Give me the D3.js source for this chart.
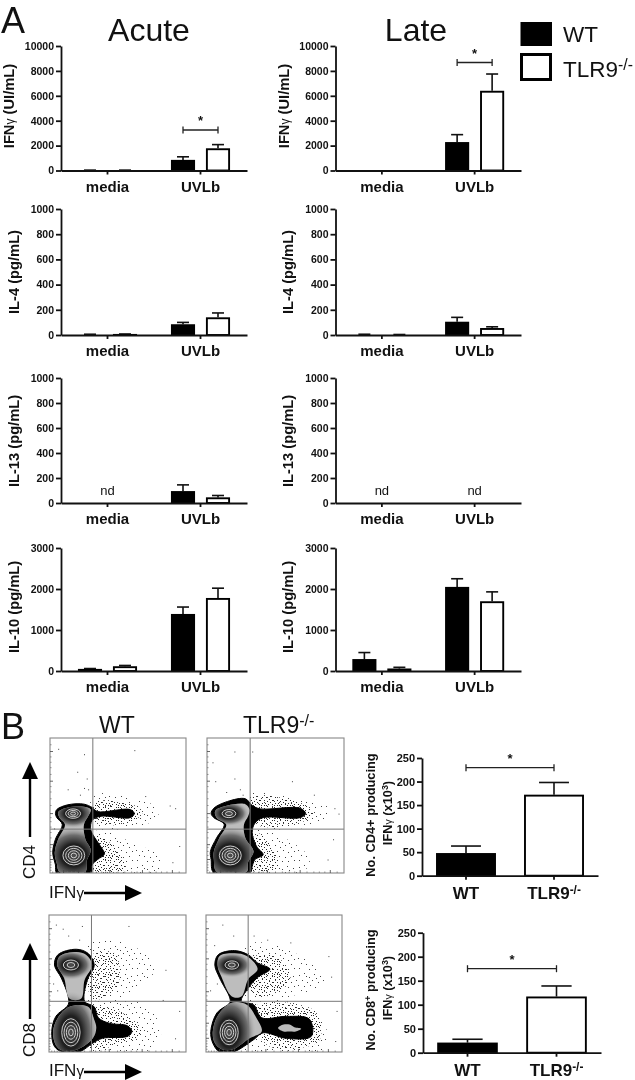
<!DOCTYPE html>
<html><head><meta charset="utf-8">
<script src="https://cdn.jsdelivr.net/npm/d3@7/dist/d3.min.js"></script>
<style>
html,body{margin:0;padding:0;background:#fff}
svg{display:block;filter:blur(.35px)}
text{font-family:"Liberation Sans",Arial,sans-serif;fill:#111}
.tick text{font-weight:700}
</style></head><body><svg id="c" width="635" height="1080"></svg>
<script>
// ---------- bar chart data ----------
const groups = ["media","UVLb"];
const series = ["WT","TLR9"];
const ifnTicks = [0,2000,4000,6000,8000,10000];
const ilTicks = [0,200,400,600,800,1000];
const il10Ticks = [0,1000,2000,3000];
const countTicks = [0,50,100,150,200,250];

const ifnAcuteWT=[30,850],   ifnAcuteWTtop=[30,1100];
const ifnAcuteKO=[30,1780],  ifnAcuteKOtop=[30,2080];
const ifnLateWT=[0,2280],    ifnLateWTtop=[0,2880];
const ifnLateKO=[0,6400],    ifnLateKOtop=[0,7750];
const il4AcuteWT=[6,85],     il4AcuteWTtop=[6,100];
const il4AcuteKO=[8,140],    il4AcuteKOtop=[8,175];
const il4LateWT=[6,105],     il4LateWTtop=[6,140];
const il4LateKO=[4,55],      il4LateKOtop=[4,65];
const il13AcuteWT=[null,95], il13AcuteWTtop=[null,145];
const il13AcuteKO=[null,45], il13AcuteKOtop=[null,60];
const il13LateWT=[null,null],il13LateWTtop=[null,null];
const il13LateKO=[null,null],il13LateKOtop=[null,null];
const il10AcuteWT=[50,1390], il10AcuteWTtop=[60,1560];
const il10AcuteKO=[115,1780],il10AcuteKOtop=[135,2020];
const il10LateWT=[290,2050], il10LateWTtop=[450,2250];
const il10LateKO=[60,1700],  il10LateKOtop=[90,1930];
const cd4Count=[48,172], cd4CountTop=[63,198];
const cd8Count=[21,117], cd8CountTop=[28,139];

// ---------- flow plot shapes, in percent of each plot's axes ----------
const cd4WtOutline=[[5,47],[13,50.5],[25,51],[31,48.5],[35,45.5],[59,47],[62,44],[59,41],[37,42],[31,39],[30,32],[33,26],[37,20],[40,14],[35,10],[31,6],[30,0],[5,0],[4,6],[2,15],[4,25],[9,36],[5,41],[4,44]];
const cd4WtInner=[[[6,45],[13,48.5],[25,49],[30,47],[28,42],[25,36],[26,25],[30,17],[27,9],[26,1],[7,1],[5,7],[3.5,15],[6,25],[11,36],[7,41]]];
const cd4WtCenters=[[17,44,5.5,3.5,3],[17.5,13,8,7,4]];
const cd4KoOutline=[[5,48],[15,53],[28,55],[33,50],[39,47.5],[68,48],[72,44],[68,41],[41,41],[35,37],[33,30],[36,20],[41,13.5],[35,10],[33,5],[31.5,0],[5,0],[3,10],[2.5,16],[7,26],[12.5,36],[5,41],[3,44]];
const cd4KoInner=[[[6,46],[15,50],[28,51],[31,47],[30,42],[27,36],[28,26],[34,16],[30,8],[29,1],[7,1],[5,10],[5,16],[9,26],[14,36],[7,41]]];
const cd4KoCenters=[[16,44,5,3,2],[17,13,8,7,4]];
const cd8WtOutline=[[4,63.5],[6.5,71],[20,75],[28.5,72],[33,63.5],[28,52.5],[26,37],[33,33],[36,25],[44,21],[57.5,19],[60.5,15],[57.5,11.5],[39,10],[32,6.5],[22,0],[10,0],[4,4],[2,15],[5,26],[14,34.5],[14,40.5],[9,54]];
const cd8WtInner=[[[6,63.5],[8,70],[20,73],[27,71],[31.5,63.5],[26,52.5],[23.5,39],[15,39],[11,54]],[[15,33],[28.5,33],[33,23.5],[34.5,17.5],[32,10],[21,2],[10,1],[5,5],[3,15],[6.5,25]]];
const cd8WtCenters=[[16,63.5,5.5,3.6,2],[16,14.3,6.7,10,4]];
const cd8KoOutline=[[6.5,63.5],[9,71],[21,74],[31,71],[38,65],[47,60.5],[38,54.5],[31,46.5],[26,37],[35,34.5],[41,25],[59,26],[76,24],[77.5,11.5],[59,10],[42,14],[35,9],[20,0],[10,0],[5,6.5],[3.5,15],[8,28.5],[17.5,36],[17.5,39.5],[10,54]];
const cd8KoInner=[[[8.5,63.5],[10,70],[21,72],[30,70],[38,60.5],[31,53],[26,40.5],[19,40.5],[11.5,54.5]],[[19,36],[30,34.5],[37,25],[41,15],[32,10],[20,2],[11.5,2],[6.5,6.5],[5,15],[9,27]]];
const cd8KoCenters=[[19,63.5,5,3,2],[17,14.3,6.7,9,4]];
const cd8KoPatch=[[[53,17.5],[57,20],[61.5,20],[65,18],[70,17],[66,15],[61.5,15],[57,15]]];

const hazeCd4Wt=[[[32,58],[61,55],[81,47],[71,36],[37,34],[30,44]],[[35,32],[61,22],[81,12],[79,1],[33,1]]];
const denseCd4Wt=[[[33,52],[60,51],[68,45],[60,38],[34,37]],[[34,28],[50,16],[55,3],[32,2]]];
const hazeCd4Ko=[[[30,58],[70,54],[90,47],[80,36],[40,34],[30,44]],[[35,32],[60,24],[75,10],[70,1],[33,1]]];
const denseCd4Ko=[[[32,56],[68,52],[78,45],[70,38],[36,36]],[[36,30],[48,18],[52,4],[33,2]]];
const hazeCd8Wt=[[[28,78],[55,80],[78,62],[60,44],[30,36],[26,55]],[[33,36],[70,34],[82,14],[72,1],[26,1]]];
const denseCd8Wt=[[[30,70],[48,72],[50,48],[32,38],[28,55]],[[34,32],[58,26],[68,14],[52,6],[30,3]]];
const hazeCd8Ko=[[[28,78],[58,76],[88,52],[60,40],[30,36],[22,60]],[[30,36],[75,32],[90,12],[85,1],[28,1]]];
const denseCd8Ko=[[[36,70],[54,68],[62,52],[40,40],[30,48]],[[36,33],[80,30],[83,8],[45,5]]];

const strayCd4Wt=[[6,92],[20,75],[25,88],[62,91],[27,70],[25,63],[13,62],[88,50],[92,48],[70,57],[95,20],[90,8],[3,33],[6,30],[22,58],[28,62]];
const strayCd4Ko=[[4,82],[20,90],[6,68],[33,90],[62,68],[14,60],[24,62],[93,48],[96,44],[78,58],[92,25],[88,10],[20,70],[26,58]];
const strayCd8Wt=[[5,93],[14,85],[58,92],[22,82],[24,92],[10,90],[85,60],[3,50],[6,45],[92,10],[95,30],[83,38]];
const strayCd8Ko=[[12,93],[6,78],[20,85],[35,85],[62,80],[90,70],[8,50],[3,45],[95,8],[96,30],[92,55],[45,82]];

const flowMajor=[10,21,44,68,90];
const flowMinor=[2,4,6,8,13,16,19,26,30,34,38,41,50,55,60,64,73,78,82,86,95];
const quadCd4=[31.5,32.5], quadCd8=[31,37];

// ---------- drawing ----------
const svg=d3.select("#c");
const defs=svg.append("defs");
const lightDots=[[2,3],[7,1],[12,5],[17,2],[23,4],[5,8],[10,10],[15,8],[21,10],[1,13],[7,14],[13,13],[18,15],[24,14],[4,18],[9,19],[15,20],[21,19],[2,23],[12,24],[18,24],[24,23],[26,8],[19,6],[9,4]];
const denseDots=[[1,1],[4,2],[7,0],[10,3],[2,4],[6,4],[9,6],[0,7],[4,7],[7,8],[10,9],[2,10],[5,10],[8,11],[1,12],[4,12],[12,1],[12,7],[12,11],[6,12]];
function pattern(id,size,dots,col){
  const p=defs.append("pattern").attr("id",id).attr("width",size).attr("height",size).attr("patternUnits","userSpaceOnUse");
  p.selectAll("rect").data(dots).join("rect").attr("x",d=>d[0]).attr("y",d=>d[1]).attr("width",1).attr("height",1).attr("fill",col);
}
pattern("hazeLight",27,lightDots,"#444");
pattern("hazeDense",13,denseDots,"#2a2a2a");
const grad=defs.append("radialGradient").attr("id","core");
grad.append("stop").attr("offset","0").attr("stop-color","#505050").attr("stop-opacity",1);
grad.append("stop").attr("offset","0.4").attr("stop-color","#1e1e1e").attr("stop-opacity",1);
grad.append("stop").attr("offset","0.72").attr("stop-color","#666").attr("stop-opacity",.9);
grad.append("stop").attr("offset","1").attr("stop-color","#aaa").attr("stop-opacity",0);

function rich(g,parts){ // parts: [text, kind]
  parts.forEach(([t,k])=>{
    const s=g.append("tspan").text(t);
    if(k==="sup") s.attr("font-size","0.7em").attr("dy","-0.42em");
    if(k==="after") s.attr("dy","0.29em");
    if(k==="gamma") s.attr("font-size","0.82em").attr("font-weight","400");
  });
  return g;
}

function barPanel(o){
  const x0=d3.scaleBand().domain(o.cats).range([o.x,o.xEnd]).paddingInner(o.pi||0).paddingOuter(o.po||0);
  const y=d3.scaleLinear().domain([0,o.max]).range([o.bottom,o.top]);
  const g=svg.append("g");
  let x1;
  if(o.single){x1=null}else{
    x1=d3.scaleBand().domain(series).range([x0.bandwidth()/2-29.5,x0.bandwidth()/2+29.5]).paddingInner(.314);
  }
  const rows=[];
  o.cats.forEach((c,i)=>{
    if(o.single){
      rows.push({x:x0(c),w:x0.bandwidth(),v:o.wt[i],t:o.wtTop[i],s:i===0?"WT":"TLR9"});
    }else{
      rows.push({x:x0(c)+x1("WT"),w:x1.bandwidth(),v:o.wt[i],t:o.wtTop[i],s:"WT"});
      rows.push({x:x0(c)+x1("TLR9"),w:x1.bandwidth(),v:o.ko[i],t:o.koTop[i],s:"TLR9"});
    }
  });
  const valid=rows.filter(d=>d.v!==null&&d.v>0);
  const cap=d=>d.w/4;
  g.selectAll(".eb").data(valid).join("line").attr("x1",d=>d.x+d.w/2).attr("x2",d=>d.x+d.w/2)
    .attr("y1",d=>y(d.v)).attr("y2",d=>y(d.t)).attr("stroke","#111").attr("stroke-width",1.6);
  g.selectAll(".cap").data(valid).join("line").attr("x1",d=>d.x+d.w/2-cap(d)).attr("x2",d=>d.x+d.w/2+cap(d))
    .attr("y1",d=>y(d.t)).attr("y2",d=>y(d.t)).attr("stroke","#111").attr("stroke-width",1.6);
  g.selectAll(".bar").data(valid).join("rect").attr("x",d=>d.x+.9).attr("width",d=>d.w-1.8)
    .attr("y",d=>Math.min(y(d.v)+.9,y(0))).attr("height",d=>Math.max(y(0)-y(d.v)-.9,0))
    .attr("fill",d=>d.s==="WT"?"#000":"#fff").attr("stroke","#000").attr("stroke-width",1.9);
  const ay=g.append("g").attr("transform",`translate(${o.x},0)`)
    .call(d3.axisLeft(y).tickValues(o.ticks).tickSize(5).tickSizeOuter(0).tickFormat(d3.format("d")));
  ay.selectAll(".domain,line").attr("stroke","#111").attr("stroke-width",1.8);
  ay.selectAll("text").attr("font-size",o.tickFont||10.5).attr("dx",1).style("font-family","Liberation Sans");
  const ax=g.append("g").attr("transform",`translate(0,${o.bottom})`)
    .call(d3.axisBottom(x0).tickSize(4).tickSizeOuter(0));
  ax.selectAll(".domain,line").attr("stroke","#111").attr("stroke-width",1.8);
  const labs=ax.selectAll("text").attr("font-size",o.catFont||15).attr("dy",o.catDy||"0.95em").style("font-family","Liberation Sans");
  if(o.single){
    labs.filter(d=>d==="TLR9").text(null).each(function(){rich(d3.select(this),[["TLR9"],["-/-","sup"]])});
  }
  (o.nd||[]).forEach(c=>{
    g.append("text").attr("x",x0(c)+x0.bandwidth()/2).attr("y",y(0)-8).attr("text-anchor","middle").attr("font-size",13).text("nd");
  });
  if(o.sig){
    const yy=o.sig.y;
    const ax1=o.sig.xa(x0,x1),bx1=o.sig.xb(x0,x1);
    const sg=g.append("g").attr("stroke","#222").attr("stroke-width",1.3);
    sg.append("line").attr("x1",ax1).attr("x2",bx1).attr("y1",yy).attr("y2",yy);
    sg.append("line").attr("x1",ax1).attr("x2",ax1).attr("y1",yy-3.5).attr("y2",yy+3.5);
    sg.append("line").attr("x1",bx1).attr("x2",bx1).attr("y1",yy-3.5).attr("y2",yy+3.5);
    g.append("text").attr("x",(ax1+bx1)/2).attr("y",yy-5).attr("text-anchor","middle").attr("font-size",13).attr("font-weight",700).text("*");
  }
  return {x0,x1,y};
}
function yLabel(x,y,parts,size){
  const t=svg.append("text").attr("transform",`translate(${x},${y}) rotate(-90)`).attr("text-anchor","middle")
    .attr("font-size",size||14.7).attr("font-weight",700);
  rich(t,parts);
}
const uvSig={xa:(x0,x1)=>x0("UVLb")+x1("WT")+x1.bandwidth()/2,xb:(x0,x1)=>x0("UVLb")+x1("TLR9")+x1.bandwidth()/2};
const left={x:61,xEnd:247}, right={x:335.5,xEnd:521};
const rowY=[[46,170.5],[209,335],[378,503],[548,671]];
const rowCfg=[
 {max:10000,ticks:ifnTicks},{max:1000,ticks:ilTicks},{max:1000,ticks:ilTicks},{max:3000,ticks:il10Ticks}];
function p(col,row,wt,wtTop,ko,koTop,extra){
  barPanel(Object.assign({cats:groups,x:col.x,xEnd:col.xEnd,top:rowY[row][0],bottom:rowY[row][1],max:rowCfg[row].max,ticks:rowCfg[row].ticks,wt,wtTop,ko,koTop},extra||{}));
}
p(left,0,ifnAcuteWT,ifnAcuteWTtop,ifnAcuteKO,ifnAcuteKOtop,{sig:Object.assign({y:130},uvSig)});
p(right,0,ifnLateWT,ifnLateWTtop,ifnLateKO,ifnLateKOtop,{sig:Object.assign({y:62.5},uvSig)});
p(left,1,il4AcuteWT,il4AcuteWTtop,il4AcuteKO,il4AcuteKOtop);
p(right,1,il4LateWT,il4LateWTtop,il4LateKO,il4LateKOtop);
p(left,2,il13AcuteWT,il13AcuteWTtop,il13AcuteKO,il13AcuteKOtop,{nd:["media"]});
p(right,2,il13LateWT,il13LateWTtop,il13LateKO,il13LateKOtop,{nd:["media","UVLb"]});
p(left,3,il10AcuteWT,il10AcuteWTtop,il10AcuteKO,il10AcuteKOtop);
p(right,3,il10LateWT,il10LateWTtop,il10LateKO,il10LateKOtop);

const ifnLab=u=>[["IFN"],["γ","gamma"],[" ("+u+")"]];
yLabel(14,106,ifnLab("UI/mL")); yLabel(289,106,ifnLab("UI/mL"));
yLabel(19,272,[["IL-4 (pg/mL)"]]); yLabel(293,272,[["IL-4 (pg/mL)"]]);
yLabel(19,441,[["IL-13 (pg/mL)"]]); yLabel(293,441,[["IL-13 (pg/mL)"]]);
yLabel(19,607,[["IL-10 (pg/mL)"]]); yLabel(293,607,[["IL-10 (pg/mL)"]]);

const countCats=["WT","TLR9"];
const countSig={xa:x0=>x0("WT")+x0.bandwidth()/2,xb:x0=>x0("TLR9")+x0.bandwidth()/2};
barPanel({cats:countCats,single:true,x:422,xEnd:598,pi:.32,po:.16,top:758,bottom:875.7,max:250,ticks:countTicks,wt:cd4Count,wtTop:cd4CountTop,tickFont:11,catFont:17,catDy:"0.98em",sig:Object.assign({y:767.7},countSig)});
barPanel({cats:countCats,single:true,x:423,xEnd:601,pi:.32,po:.16,top:932.7,bottom:1052.7,max:250,ticks:countTicks,wt:cd8Count,wtTop:cd8CountTop,tickFont:11,catFont:17,catDy:"0.98em",sig:Object.assign({y:968.7},countSig)});
const sup3=[["IFN"],["γ","gamma"],[" (x10"],["3","sup"],[")","after"]];
yLabel(375,815,[["No. CD4+ producing"]],12.8); yLabel(392,813,sup3,12.8);
yLabel(375,990,[["No. CD8"],["+","sup"],[" producing","after"]],12.8); yLabel(392,988,sup3,12.8);

// flow plots
let clipN=0;
function flow(o){
  const x=d3.scaleLinear().domain([0,100]).range([o.x,o.x+o.w]);
  const y=d3.scaleLinear().domain([0,100]).range([o.y+o.h,o.y]);
  const g=svg.append("g");
  const smooth=d3.line().x(d=>x(d[0])).y(d=>y(d[1])).curve(d3.curveCatmullRomClosed.alpha(.5));
  const id="f"+(clipN++);
  defs.append("clipPath").attr("id",id).append("rect").attr("x",o.x).attr("y",o.y).attr("width",o.w).attr("height",o.h);
  const plot=g.append("g").attr("clip-path",`url(#${id})`);
  plot.selectAll(".h").data(o.haze).join("path").attr("d",smooth).attr("fill","url(#hazeLight)");
  plot.selectAll(".d").data(o.dense).join("path").attr("d",smooth).attr("fill","url(#hazeDense)");
  plot.selectAll(".s").data(o.stray).join("rect").attr("x",d=>x(d[0])).attr("y",d=>y(d[1])).attr("width",1).attr("height",1).attr("fill","#444");
  plot.append("path").attr("d",smooth(o.outline)).attr("fill","#000").attr("stroke","#000").attr("stroke-width",1);
  const innerId="fi"+clipN;
  const cp=defs.append("clipPath").attr("id",innerId);
  o.inner.forEach(poly=>cp.append("path").attr("d",smooth(poly)));
  plot.selectAll(".i").data(o.inner).join("path").attr("d",smooth).attr("fill","#bdbdbd");
  const shade=plot.append("g").attr("clip-path",`url(#${innerId})`);
  shade.selectAll("ellipse").data(o.centers).join("ellipse")
    .attr("cx",d=>x(d[0])).attr("cy",d=>y(d[1]))
    .attr("rx",d=>(x(d[2])-x(0))*2.9).attr("ry",d=>(y(0)-y(d[3]))*3.0).attr("fill","url(#core)");
  (o.patch||[]).forEach(q=>plot.append("path").attr("d",smooth(q)).attr("fill","#bbb"));
  o.centers.forEach(c=>{
    d3.range(1,c[4]+1).forEach(k=>{
      plot.append("ellipse").attr("cx",x(c[0])).attr("cy",y(c[1]))
        .attr("rx",(x(c[2])-x(0))*k/c[4]).attr("ry",(y(0)-y(c[3]))*k/c[4])
        .attr("fill","none").attr("stroke","#ddd").attr("stroke-width",.9);
    });
  });
  g.append("line").attr("x1",x(o.quad[0])).attr("x2",x(o.quad[0])).attr("y1",o.y).attr("y2",o.y+o.h).attr("stroke","#777").attr("stroke-width",1);
  g.append("line").attr("y1",y(o.quad[1])).attr("y2",y(o.quad[1])).attr("x1",o.x).attr("x2",o.x+o.w).attr("stroke","#777").attr("stroke-width",1);
  g.append("rect").attr("x",o.x).attr("y",o.y).attr("width",o.w).attr("height",o.h).attr("fill","none").attr("stroke","#888").attr("stroke-width",1.1);
  const tick=(vals,len,col)=>{
    g.append("g").selectAll("line").data(vals).join("line").attr("x1",o.x).attr("x2",o.x+len).attr("y1",d=>y(d)).attr("y2",d=>y(d)).attr("stroke",col).attr("stroke-width",.8);
    g.append("g").selectAll("line").data(vals).join("line").attr("y1",o.y+o.h).attr("y2",o.y+o.h-len).attr("x1",d=>x(d)).attr("x2",d=>x(d)).attr("stroke",col).attr("stroke-width",.8);
  };
  tick(flowMajor,3,"#444"); tick(flowMinor,1.5,"#777");
}
flow({x:50,y:738,w:136,h:135,outline:cd4WtOutline,inner:cd4WtInner,centers:cd4WtCenters,haze:hazeCd4Wt,dense:denseCd4Wt,stray:strayCd4Wt,quad:quadCd4});
flow({x:207,y:738,w:137,h:135,outline:cd4KoOutline,inner:cd4KoInner,centers:cd4KoCenters,haze:hazeCd4Ko,dense:denseCd4Ko,stray:strayCd4Ko,quad:quadCd4});
flow({x:49,y:915,w:137,h:137,outline:cd8WtOutline,inner:cd8WtInner,centers:cd8WtCenters,haze:hazeCd8Wt,dense:denseCd8Wt,stray:strayCd8Wt,quad:quadCd8});
flow({x:206,y:915,w:136,h:137,outline:cd8KoOutline,inner:cd8KoInner,centers:cd8KoCenters,haze:hazeCd8Ko,dense:denseCd8Ko,stray:strayCd8Ko,quad:quadCd8,patch:cd8KoPatch});

// titles and letters
function txt(x,y,s,size,anchor){return svg.append("text").attr("x",x).attr("y",y).attr("font-size",size).attr("text-anchor",anchor||"start").text(s)}
txt(1,33,"A",36); txt(1,739,"B",36);
txt(149,41,"Acute",32,"middle"); txt(416,41,"Late",32,"middle");
txt(117,733,"WT",23,"middle");
rich(svg.append("text").attr("x",243).attr("y",733).attr("font-size",23),[["TLR9"],["-/-","sup"]]);

// legend
svg.append("rect").attr("x",520.5).attr("y",22).attr("width",31.5).attr("height",24).attr("fill","#000");
svg.append("rect").attr("x",521.5).attr("y",54.5).attr("width",29).attr("height",25).attr("fill","#fff").attr("stroke","#000").attr("stroke-width",3);
txt(563,42,"WT",22.5);
rich(svg.append("text").attr("x",563).attr("y",77).attr("font-size",22.5),[["TLR9"],["-/-","sup"]]);

// flow axis captions
function arrow(x1,y1,x2,y2){
  const a=Math.atan2(y2-y1,x2-x1),L=17,W=8,bx=x2-L*Math.cos(a),by=y2-L*Math.sin(a);
  svg.append("line").attr("x1",x1).attr("y1",y1).attr("x2",bx).attr("y2",by).attr("stroke","#000").attr("stroke-width",2.4);
  svg.append("path").attr("d",d3.line()([[x2,y2],[bx-W*Math.sin(a),by+W*Math.cos(a)],[bx+W*Math.sin(a),by-W*Math.cos(a)]])).attr("fill","#000");
}
[["CD4",862,837,762,898,893],["CD8",1040,1019,943,1076,1072]].forEach(([n,cy,a1,a2,ty,ay])=>{
  svg.append("text").attr("transform",`translate(35,${cy}) rotate(-90)`).attr("text-anchor","middle").attr("font-size",17).text(n);
  arrow(30,a1,30,a2);
  const t=svg.append("text").attr("x",49).attr("y",ty).attr("font-size",17);
  t.append("tspan").text("IFN"); t.append("tspan").attr("font-size",15).text("γ");
  arrow(84,ay,142,ay);
});
</script></body></html>
